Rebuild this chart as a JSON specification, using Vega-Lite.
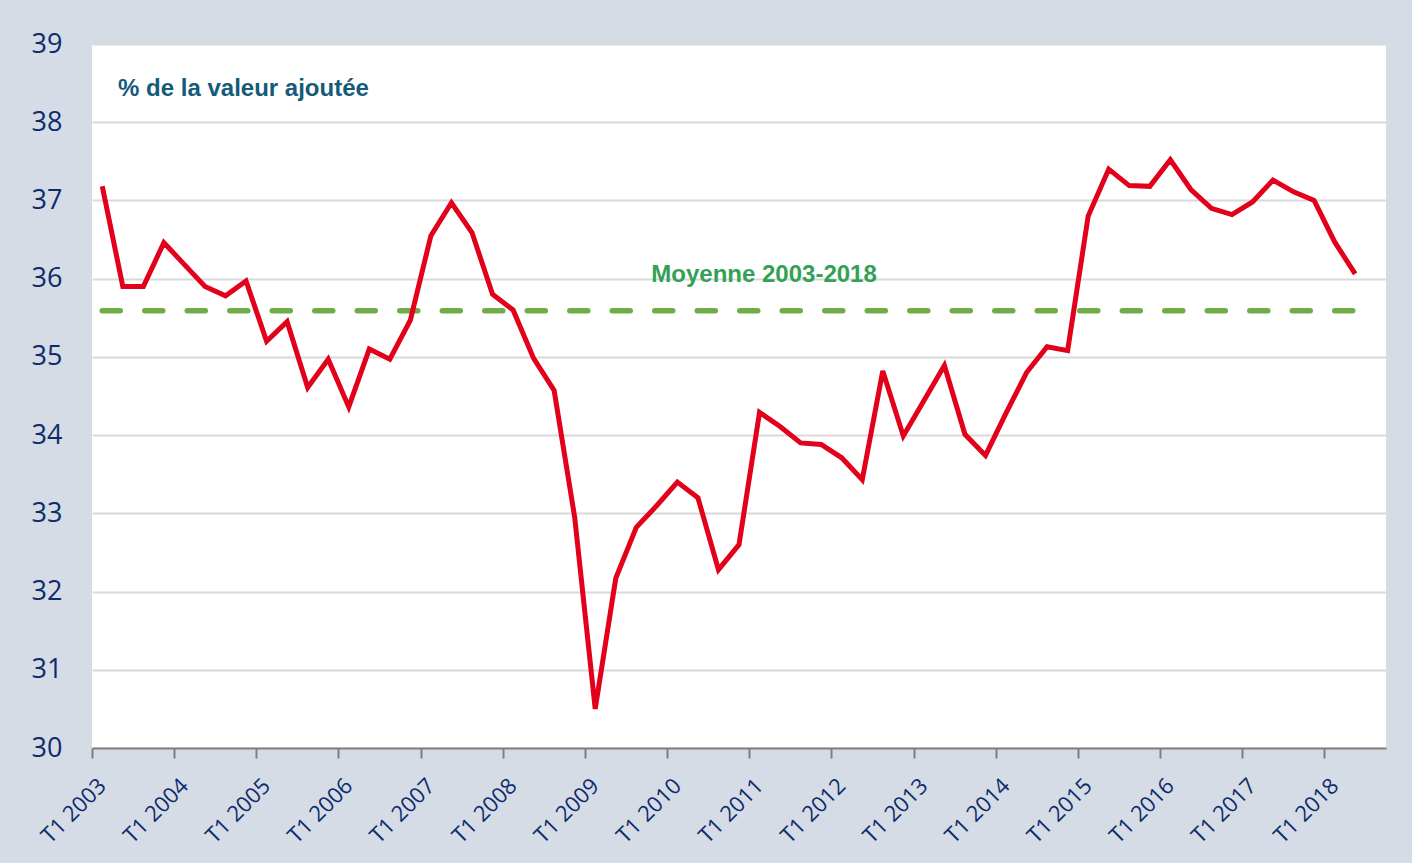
{
  "$schema": "https://vega.github.io/schema/vega-lite/v6.json",
  "autosize": "none",
  "width": 1294,
  "height": 704,
  "padding": {"left": 92, "top": 44, "right": 26, "bottom": 115},
  "background": "#d6dce6",
  "config": {
    "view": {"stroke": null, "fill": "#ffffff"},
    "axisY": {
      "grid": true, "gridColor": "#d9d9d9", "gridWidth": 2,
      "domain": false, "ticks": false,
      "labelFont": "Open Sans", "labelFontSize": 27, "labelColor": "#0d2c6c",
      "labelPadding": 30, "labelBaseline": "middle"
    },
    "axisX": {
      "grid": false, "domainColor": "#7f7f7f", "domainWidth": 2,
      "tickColor": "#7f7f7f", "tickWidth": 2, "tickSize": 10,
      "labelFont": "Open Sans", "labelFontSize": 22, "labelColor": "#0d2c6c",
      "labelAngle": -45, "labelAlign": "right", "labelBaseline": "middle",
      "labelPadding": 24, "labelOffset": 10
    }
  },
  "datasets": {
    "serie": [
      {"t": 0, "taux": 37.18}, {"t": 1, "taux": 35.90}, {"t": 2, "taux": 35.90}, {"t": 3, "taux": 36.46},
      {"t": 4, "taux": 36.18}, {"t": 5, "taux": 35.90}, {"t": 6, "taux": 35.78}, {"t": 7, "taux": 35.97},
      {"t": 8, "taux": 35.20}, {"t": 9, "taux": 35.45}, {"t": 10, "taux": 34.61}, {"t": 11, "taux": 34.97},
      {"t": 12, "taux": 34.36}, {"t": 13, "taux": 35.10}, {"t": 14, "taux": 34.97}, {"t": 15, "taux": 35.47},
      {"t": 16, "taux": 36.55}, {"t": 17, "taux": 36.97}, {"t": 18, "taux": 36.59}, {"t": 19, "taux": 35.80},
      {"t": 20, "taux": 35.60}, {"t": 21, "taux": 34.98}, {"t": 22, "taux": 34.57}, {"t": 23, "taux": 32.95},
      {"t": 24, "taux": 30.50}, {"t": 25, "taux": 32.17}, {"t": 26, "taux": 32.82}, {"t": 27, "taux": 33.10},
      {"t": 28, "taux": 33.40}, {"t": 29, "taux": 33.20}, {"t": 30, "taux": 32.28}, {"t": 31, "taux": 32.60},
      {"t": 32, "taux": 34.29}, {"t": 33, "taux": 34.11}, {"t": 34, "taux": 33.90}, {"t": 35, "taux": 33.88},
      {"t": 36, "taux": 33.71}, {"t": 37, "taux": 33.43}, {"t": 38, "taux": 34.82}, {"t": 39, "taux": 33.99},
      {"t": 40, "taux": 34.44}, {"t": 41, "taux": 34.89}, {"t": 42, "taux": 34.01}, {"t": 43, "taux": 33.74},
      {"t": 44, "taux": 34.28}, {"t": 45, "taux": 34.80}, {"t": 46, "taux": 35.13}, {"t": 47, "taux": 35.08},
      {"t": 48, "taux": 36.80}, {"t": 49, "taux": 37.40}, {"t": 50, "taux": 37.19}, {"t": 51, "taux": 37.18},
      {"t": 52, "taux": 37.52}, {"t": 53, "taux": 37.14}, {"t": 54, "taux": 36.90}, {"t": 55, "taux": 36.82},
      {"t": 56, "taux": 36.98}, {"t": 57, "taux": 37.26}, {"t": 58, "taux": 37.11}, {"t": 59, "taux": 37.00},
      {"t": 60, "taux": 36.47}, {"t": 61, "taux": 36.06}
    ],
    "moyenne": [{"debut": 0, "fin": 61, "valeur": 35.59}],
    "titre": [{"t": 0.77, "taux": 38.34, "texte": "% de la valeur ajoutée"}],
    "note": [{"t": 32.22, "taux": 35.96, "texte": "Moyenne 2003-2018"}]
  },
  "layer": [
    {
      "data": {"name": "moyenne"},
      "mark": {"type": "rule", "color": "#70ad47", "strokeWidth": 5.5, "strokeDash": [18, 24.5], "strokeCap": "round"},
      "encoding": {
        "x": {"field": "debut", "type": "quantitative", "title": null,
              "scale": {"domain": [-0.5, 62.5], "nice": false, "zero": false},
              "axis": {"values": [-0.5, 3.5, 7.5, 11.5, 15.5, 19.5, 23.5, 27.5, 31.5, 35.5, 39.5, 43.5, 47.5, 51.5, 55.5, 59.5],
                       "labelExpr": "'T1 ' + (2003 + (datum.value + 0.5) / 4)", "title": null}},
        "x2": {"field": "fin"},
        "y": {"field": "valeur", "type": "quantitative", "title": null,
              "scale": {"domain": [30, 39], "nice": false, "zero": false},
              "axis": {"values": [30, 31, 32, 33, 34, 35, 36, 37, 38, 39], "format": "d", "title": null}}
      }
    },
    {
      "data": {"name": "serie"},
      "mark": {"type": "line", "color": "#e2001a", "strokeWidth": 5},
      "encoding": {
        "x": {"field": "t", "type": "quantitative", "title": null},
        "y": {"field": "taux", "type": "quantitative", "title": null}
      }
    },
    {
      "data": {"name": "titre"},
      "mark": {"type": "text", "align": "left", "baseline": "alphabetic", "font": "Liberation Sans", "fontWeight": "bold", "fontSize": 24, "color": "#155a78"},
      "encoding": {
        "x": {"field": "t", "type": "quantitative", "title": null},
        "y": {"field": "taux", "type": "quantitative", "title": null},
        "text": {"field": "texte"}
      }
    },
    {
      "data": {"name": "note"},
      "mark": {"type": "text", "align": "center", "baseline": "alphabetic", "font": "Liberation Sans", "fontWeight": "bold", "fontSize": 24, "color": "#33a155"},
      "encoding": {
        "x": {"field": "t", "type": "quantitative", "title": null},
        "y": {"field": "taux", "type": "quantitative", "title": null},
        "text": {"field": "texte"}
      }
    }
  ]
}
